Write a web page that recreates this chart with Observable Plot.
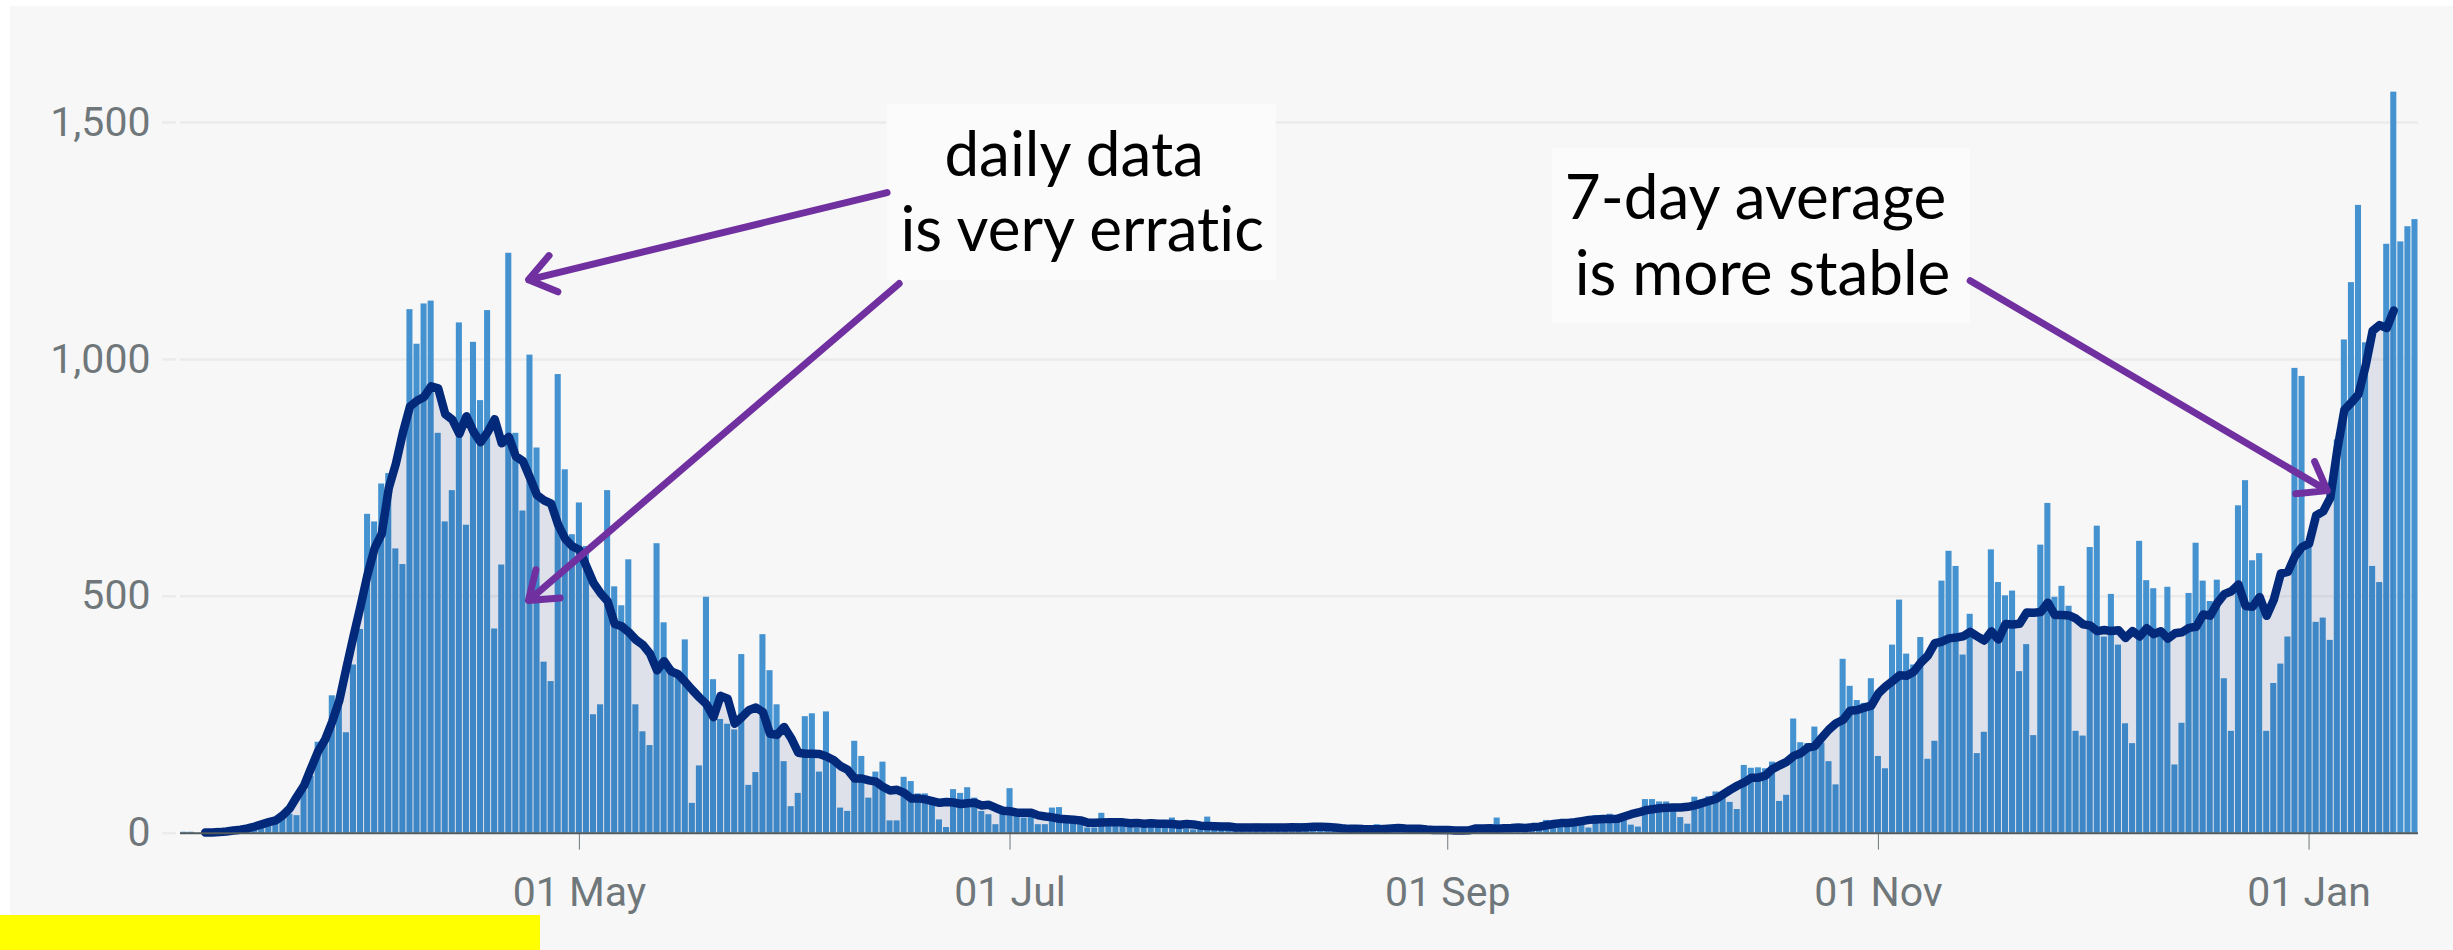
<!DOCTYPE html>
<html>
<head>
<meta charset="utf-8">
<script src="https://cdn.jsdelivr.net/npm/d3@7"></script>
<script src="https://cdn.jsdelivr.net/npm/@observablehq/plot@0.6"></script>
<style>
  html, body { margin: 0; padding: 0; background: #ffffff; overflow: hidden; }
  #chart { position: absolute; left: 10px; top: 6px; }
  #chart text { font-variant-ligatures: none; font-feature-settings: "liga" 0, "clig" 0; }
  #marker { position: absolute; left: 0; top: 915px; width: 540px; height: 35px; background: #ffff00; }
</style>
</head>
<body>
<div id="chart"></div>
<div id="marker"></div>
<script>
// Daily deaths (date reported), one array per month
const deathsMar2020 = [2, 2, 0, 1, 3, 2, 1, 1, 8, 10, 14, 16, 20, 30, 33, 40, 37, 90, 120, 192, 192, 290, 290, 212, 355, 430]; // from 6 Mar
const deathsApr2020 = [673, 657, 737, 759, 600, 567, 1105, 1032, 1117, 1123, 844, 657, 723, 1077, 650, 1036, 913, 1103, 431, 566, 1224, 844, 680, 1009, 813, 361, 320, 968, 767, 630];
const deathsMay2020 = [697, 605, 250, 271, 723, 520, 480, 577, 271, 214, 185, 611, 444, 350, 330, 408, 63, 142, 498, 324, 240, 230, 218, 377, 101, 128, 419, 343, 271, 151, 56];
const deathsJun2020 = [84, 246, 252, 129, 256, 151, 53, 46, 194, 162, 74, 129, 150, 26, 26, 118, 109, 83, 83, 67, 28, 12, 92, 84, 96, 74, 46, 39, 18, 53];
const deathsJul2020 = [94, 49, 32, 39, 18, 18, 53, 54, 32, 21, 18, 11, 11, 42, 21, 30, 25, 20, 11, 11, 28, 25, 20, 32, 14, 9, 7, 19, 34, 15, 13];
const deathsAug2020 = [10, 5, 4, 18, 19, 15, 15, 9, 5, 3, 20, 17, 18, 11, 15, 10, 3, 16, 12, 6, 2, 18, 4, 1, 16, 16, 12, 9, 12, 1, 1];
const deathsSep2020 = [3, 10, 10, 12, 2, 2, 3, 32, 8, 14, 6, 9, 5, 9, 27, 20, 21, 27, 27, 18, 11, 37, 37, 40, 34, 34, 17, 13, 71, 71];
const deathsOct2020 = [66, 66, 49, 33, 19, 76, 70, 77, 87, 81, 65, 50, 143, 137, 138, 136, 150, 67, 80, 241, 191, 189, 224, 190, 151, 102, 367, 310, 280, 274, 326];
const deathsNov2020 = [162, 136, 397, 492, 378, 355, 413, 156, 194, 532, 595, 563, 376, 462, 168, 213, 598, 529, 501, 511, 341, 398, 206, 608, 696, 498, 521, 479, 215, 205];
const deathsDec2020 = [603, 648, 414, 504, 397, 231, 189, 616, 533, 516, 424, 519, 144, 232, 506, 612, 532, 489, 534, 326, 215, 691, 744, 575, 590, 215, 316, 357, 414, 981, 964];
const deathsJan2021 = [613, 445, 454, 407, 830, 1041, 1162, 1325, 1035, 563, 529, 1243, 1564, 1248, 1280, 1295];

const monthStarts = ["2020-03-06", "2020-04-01", "2020-05-01", "2020-06-01", "2020-07-01", "2020-08-01",
                     "2020-09-01", "2020-10-01", "2020-11-01", "2020-12-01", "2021-01-01"];
const monthValues = [deathsMar2020, deathsApr2020, deathsMay2020, deathsJun2020, deathsJul2020, deathsAug2020,
                     deathsSep2020, deathsOct2020, deathsNov2020, deathsDec2020, deathsJan2021];

// Axis ticks
const xTicks = ["2020-05-01", "2020-07-01", "2020-09-01", "2020-11-01", "2021-01-01"];
const yTicks = [0, 500, 1000, 1500];

// Annotations
const boxX1 = ["2020-06-13T14:00Z", "2020-09-15T19:00Z"];
const boxX2 = ["2020-08-07T17:00Z", "2020-11-14T00:00Z"];
const boxY1 = [1166, 1076];
const boxY2 = [1538, 1445];

const noteLines = ["daily data", "is very erratic", "7-day average", "is more stable"];
const noteX = ["2020-07-10T02:00Z", "2020-07-11T05:00Z", "2020-10-14T14:00Z", "2020-10-15T14:00Z"];
const noteY = [1388, 1229, 1297, 1135];

const arrowX1 = ["2020-06-13T14:00Z", "2020-06-15T07:00Z", "2020-11-14T00:00Z"];
const arrowY1 = [1352, 1160, 1166];
const arrowX2 = ["2020-04-23T19:00Z", "2020-04-23T19:00Z", "2021-01-03T14:00Z"];
const arrowY2 = [1168, 491, 723];

// ---- build tables ----
const parse = s => new Date(s.length === 10 ? s + "T00:00Z" : s);
const daily = [];
monthValues.forEach((arr, i) => {
  const s = parse(monthStarts[i]);
  arr.forEach((v, j) => daily.push({date: d3.utcDay.offset(s, j), deaths: v}));
});
// centred 7-day average
const average = [];
for (let i = 3; i < daily.length - 3; i++) {
  average.push({date: daily[i].date, avg: d3.mean(daily.slice(i - 3, i + 4), d => d.deaths)});
}
const boxes = boxX1.map((x, i) => ({x1: parse(x), x2: parse(boxX2[i]), y1: boxY1[i], y2: boxY2[i]}));
const notes = noteLines.map((t, i) => ({text: t, x: parse(noteX[i]), y: noteY[i]}));
const arrows = arrowX1.map((x, i) => ({x1: parse(x), y1: arrowY1[i], x2: parse(arrowX2[i]), y2: arrowY2[i]}));

const xStart = d3.utcHour.offset(daily[0].date, -12);
const xEnd = d3.utcHour.offset(daily[daily.length - 1].date, 12);

const chart = Plot.plot({
  width: 2443,
  height: 944,
  marginLeft: 170,
  marginRight: 35,
  marginTop: 68.6,
  marginBottom: 117.3,
  style: {background: "#f7f7f7", color: "#6f777b", fontFamily: "Roboto, sans-serif", fontSize: "41px", overflow: "visible"},
  x: {type: "utc", domain: [xStart, xEnd], ticks: xTicks.map(parse), tickFormat: d3.utcFormat("%d %b"),
      tickSize: 17, tickPadding: 27, label: null},
  y: {domain: [0, 1600], ticks: yTicks, tickFormat: d3.format(","), tickSize: 0, tickPadding: 30, label: null},
  marks: [
    Plot.ruleY(yTicks.slice(1), {stroke: "#ebebeb", strokeWidth: 2.5}),
    Plot.ruleY(yTicks, {x1: () => xStart, x2: () => xStart, insetLeft: -18, insetRight: 4, stroke: "#ebebeb", strokeWidth: 2.5}),
    Plot.rectY(daily, {
      x1: d => d3.utcHour.offset(d.date, -12),
      x2: d => d3.utcHour.offset(d.date, 12),
      y: "deaths", fill: "#4592d0", insetLeft: 0.5, insetRight: 0.5
    }),
    Plot.areaY(average, {x: "date", y: "avg", fill: "#0b2c7a", fillOpacity: 0.1}),
    Plot.lineY(average, {x: "date", y: "avg", stroke: "#03297b", strokeWidth: 8.5, strokeLinejoin: "round", strokeLinecap: "round"}),
    Plot.ruleY([0], {stroke: "#505a5f", strokeWidth: 2}),
    Plot.rect(boxes, {x1: "x1", x2: "x2", y1: "y1", y2: "y2", fill: "#fbfbfb"}),
    Plot.text(notes, {x: "x", y: "y", text: "text", fontFamily: "Lato, 'Open Sans', sans-serif", fontSize: 62,
                      fill: "#000000", textAnchor: "middle", lineAnchor: "bottom"}),
    Plot.arrow(arrows, {x1: "x1", y1: "y1", x2: "x2", y2: "y2", stroke: "#7030a0", strokeWidth: 7,
                        headLength: 6.8, headAngle: 72})
  ]
});
document.getElementById("chart").append(chart);
</script>
</body>
</html>
